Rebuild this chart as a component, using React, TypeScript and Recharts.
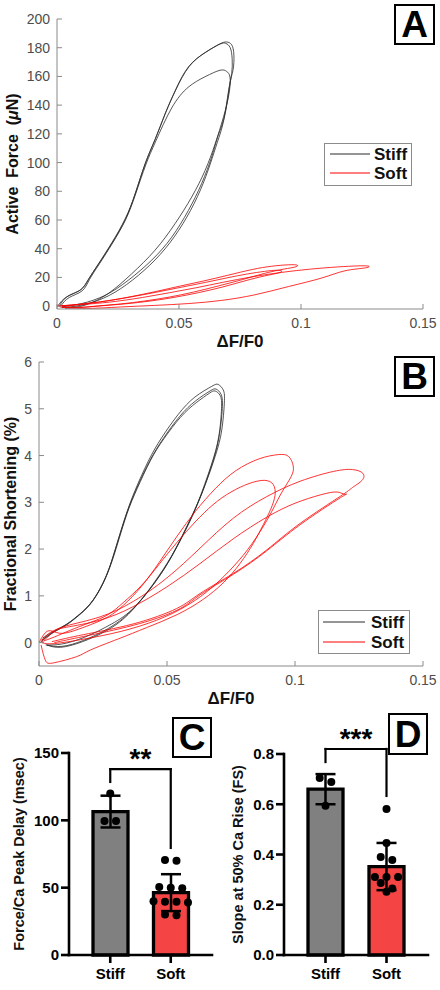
import type { ReactNode } from 'react';
import {
  LineChart,
  Line,
  XAxis,
  YAxis,
  Label,
  Legend,
  ComposedChart,
  Bar,
  Cell,
  ErrorBar,
  Scatter,
  ReferenceLine,
} from 'recharts';

type Pt = [number, number];

const FONT = '"Liberation Sans", Arial, Helvetica, sans-serif';

// ---------- A / B : loops against ΔF/F0 ----------
const DFF_TICKS = [0, 0.05, 0.1, 0.15];
const FORCE_TICKS = [0, 20, 40, 60, 80, 100, 120, 140, 160, 180, 200];
const FS_TICKS = [0, 1, 2, 3, 4, 5, 6];

// active force (µN) vs ΔF/F0, one array per beat
const forceStiff1: Pt[] = [
  [0.0005, 0.5], [0.004, 6.5], [0.0094, 11], [0.0128, 18.5], [0.0169, 29], [0.0224, 43.5],
  [0.0279, 60], [0.032, 78], [0.0361, 99], [0.0402, 116], [0.0443, 134], [0.0484, 150],
  [0.0538, 166.5], [0.0607, 176.5], [0.0665, 182.5], [0.0695, 184], [0.0716, 182], [0.0725, 175],
  [0.0722, 165], [0.0709, 155], [0.0689, 134], [0.0661, 119], [0.0634, 104], [0.0593, 85.5],
  [0.0538, 66.5], [0.047, 48], [0.0388, 32], [0.0292, 18], [0.0197, 7.5], [0.0101, 1.8], [0.0019, -0.5],
];
const forceStiff2: Pt[] = [
  [0.001, 0.3], [0.0045, 7], [0.0098, 11.5], [0.0131, 19], [0.0172, 30], [0.0226, 44.5],
  [0.028, 61], [0.0322, 79], [0.0363, 100], [0.0404, 117], [0.0446, 135], [0.0488, 151],
  [0.0542, 167], [0.061, 177], [0.0668, 182.5], [0.0692, 183], [0.071, 180], [0.0718, 172],
  [0.0716, 162], [0.0703, 150], [0.0684, 130], [0.0657, 114], [0.0628, 99], [0.0588, 81],
  [0.0532, 62], [0.0462, 44], [0.038, 28.5], [0.0285, 15], [0.019, 5.5], [0.0095, 0.5], [0.002, -1],
];
const forceStiff3: Pt[] = [
  [0.0015, 0], [0.005, 6], [0.0102, 10.5], [0.0133, 18.5], [0.0174, 29.5], [0.0228, 44],
  [0.0282, 60.5], [0.0323, 78.5], [0.0364, 98.5], [0.0405, 115], [0.047, 138], [0.0538, 152.5],
  [0.0607, 159.8], [0.0668, 164.3], [0.0695, 163.5], [0.0709, 159.5], [0.0705, 148], [0.0682, 131.5],
  [0.0648, 113], [0.0607, 94.5], [0.0552, 76], [0.0484, 57.5], [0.0402, 39], [0.0306, 22.5],
  [0.021, 8.8], [0.0115, 0.7], [0.0033, -1.5],
];
const forceSoft1: Pt[] = [
  [0, 0], [0.005, 0.6], [0.012, 1.8], [0.02, 3.5], [0.03, 6.5], [0.04, 10], [0.05, 13.8],
  [0.06, 17.5], [0.07, 21.5], [0.08, 25.5], [0.088, 27.8], [0.095, 28.8], [0.0985, 28.5],
  [0.0975, 27.2], [0.093, 25.8], [0.085, 22.8], [0.076, 18.5], [0.066, 14], [0.056, 9.8],
  [0.046, 6.3], [0.036, 3.6], [0.026, 1.5], [0.016, 0], [0.007, -1.2], [0.001, -0.5],
];
const forceSoft2: Pt[] = [
  [0.001, 0.2], [0.006, 0.8], [0.013, 2], [0.021, 3.8], [0.031, 6.6], [0.041, 9.8], [0.051, 13.2],
  [0.061, 16.6], [0.07, 19.8], [0.078, 22.4], [0.085, 24.2], [0.09, 25], [0.0921, 24.4],
  [0.0905, 23], [0.085, 21], [0.077, 17.6], [0.068, 13.4], [0.058, 9.4], [0.048, 6.1],
  [0.038, 3.5], [0.028, 1.6], [0.018, 0.2], [0.009, -0.8], [0.002, -0.4],
];
const forceSoft3: Pt[] = [
  [0, 0.3], [0.006, 0.6], [0.014, 1.6], [0.024, 3.3], [0.035, 6], [0.046, 9.3], [0.057, 12.8],
  [0.068, 16.6], [0.08, 20.4], [0.092, 23.5], [0.104, 25.8], [0.115, 27.3], [0.123, 28],
  [0.1276, 27.9], [0.1262, 26.6], [0.118, 24.6], [0.1085, 19.6], [0.0948, 13.6], [0.0811, 7.9],
  [0.0675, 4], [0.054, 1.8], [0.04, 0.5], [0.026, -0.6], [0.012, -1.6], [0.003, -0.8],
];

// fractional shortening (%) vs ΔF/F0
const fsStiff1: Pt[] = [
  [0.0004, 0], [0.005, 0.2], [0.0102, 0.36], [0.0153, 0.57], [0.0206, 0.86], [0.0258, 1.36],
  [0.0297, 1.98], [0.0336, 2.67], [0.0375, 3.25], [0.0427, 3.88], [0.0479, 4.38], [0.0544, 4.88],
  [0.0609, 5.25], [0.0675, 5.48], [0.07, 5.52], [0.072, 5.4], [0.0724, 5.12], [0.0714, 4.55],
  [0.0688, 3.98], [0.0636, 3.19], [0.0583, 2.55], [0.0531, 1.98], [0.0466, 1.41], [0.0375, 0.77],
  [0.0284, 0.4], [0.018, 0.12], [0.0089, -0.03], [0.0026, -0.05],
];
const fsStiff2: Pt[] = [
  [0.001, 0.05], [0.0055, 0.22], [0.0105, 0.38], [0.0157, 0.6], [0.021, 0.9], [0.0262, 1.42],
  [0.0301, 2.04], [0.034, 2.72], [0.038, 3.28], [0.0432, 3.88], [0.0485, 4.36], [0.055, 4.84],
  [0.0612, 5.17], [0.0668, 5.38], [0.0692, 5.42], [0.0712, 5.3], [0.0716, 5.0], [0.0705, 4.45],
  [0.0678, 3.85], [0.0626, 3.05], [0.0572, 2.4], [0.0518, 1.84], [0.0452, 1.28], [0.036, 0.68],
  [0.027, 0.3], [0.0175, 0.05], [0.009, -0.08], [0.003, -0.05],
];
const fsStiff3: Pt[] = [
  [0.0015, 0.1], [0.006, 0.25], [0.011, 0.4], [0.0162, 0.62], [0.0214, 0.93], [0.0266, 1.46],
  [0.0305, 2.08], [0.0344, 2.76], [0.0384, 3.3], [0.0436, 3.9], [0.0488, 4.36], [0.0553, 4.82],
  [0.0614, 5.13], [0.0665, 5.33], [0.0688, 5.38], [0.0708, 5.28], [0.0713, 5.0], [0.0702, 4.4],
  [0.0672, 3.78], [0.0618, 2.96], [0.0562, 2.3], [0.0505, 1.72], [0.0438, 1.18], [0.0348, 0.6],
  [0.0262, 0.25], [0.017, 0.02], [0.0085, -0.1], [0.003, -0.05],
];
const fsSoft1: Pt[] = [
  [0, 0], [0.0035, 0.25], [0.008, 0.2], [0.014, 0.26], [0.02, 0.38], [0.027, 0.55], [0.033, 0.8],
  [0.04, 1.2], [0.047, 1.72], [0.054, 2.28], [0.061, 2.8], [0.069, 3.3], [0.077, 3.68],
  [0.086, 3.93], [0.0935, 4.02], [0.0975, 3.98], [0.0993, 3.78], [0.0985, 3.55], [0.0945, 3.18],
  [0.0895, 2.66], [0.083, 2.1], [0.0765, 1.66], [0.068, 1.2], [0.058, 0.8], [0.046, 0.48],
  [0.032, 0.24], [0.018, 0.08], [0.006, -0.02], [0.001, 0],
];
const fsSoft2: Pt[] = [
  [0.001, 0.02], [0.006, 0.12], [0.012, 0.26], [0.02, 0.43], [0.027, 0.6], [0.033, 0.86],
  [0.04, 1.22], [0.047, 1.68], [0.054, 2.15], [0.061, 2.58], [0.068, 2.95], [0.075, 3.22],
  [0.082, 3.4], [0.088, 3.47], [0.0915, 3.38], [0.0922, 3.15], [0.0905, 2.85], [0.0876, 2.52],
  [0.0837, 2.12], [0.0785, 1.69], [0.072, 1.28], [0.064, 0.92], [0.054, 0.6], [0.042, 0.32],
  [0.031, 0.08], [0.02, -0.16], [0.0147, -0.3], [0.006, -0.43], [0.0025, -0.38], [0.0008, -0.05],
];
const fsSoft3: Pt[] = [
  [0.001, 0.05], [0.004, 0.2], [0.0108, 0.36], [0.0238, 0.55], [0.0368, 0.88], [0.0499, 1.38],
  [0.0629, 2.02], [0.0759, 2.66], [0.0889, 3.12], [0.102, 3.45], [0.115, 3.66], [0.1225, 3.7],
  [0.1265, 3.62], [0.1262, 3.47], [0.1228, 3.33], [0.118, 3.14], [0.102, 2.55], [0.0889, 1.98],
  [0.0759, 1.48], [0.0629, 1.05], [0.0538, 0.73], [0.0368, 0.4], [0.0173, 0.17], [0.005, 0.02],
];
const fsSoft4: Pt[] = [
  [0.002, 0.05], [0.006, 0.24], [0.0108, 0.33], [0.0238, 0.48], [0.0368, 0.77], [0.0499, 1.19],
  [0.0629, 1.69], [0.0759, 2.22], [0.0889, 2.68], [0.1, 2.98], [0.11, 3.16], [0.1165, 3.22],
  [0.1195, 3.17], [0.1178, 3.1], [0.102, 2.52], [0.0889, 1.96], [0.0759, 1.46], [0.0629, 1.02],
  [0.0538, 0.69], [0.0368, 0.37], [0.0173, 0.13], [0.006, 0],
];

// ---------- C / D : bar + dot plots ----------
const GROUPS = ['Stiff', 'Soft'];

const DELAY_TICKS = [0, 50, 100, 150];
const DELAY_MEAN = [106.5, 46.3];
const DELAY_SD = [11.8, 13.7];
const DELAY_STIFF = [120, 99.5, 99.5];
const DELAY_SOFT = [70.5, 70, 50.5, 50, 49.5, 40, 39.5, 39.5, 39, 30, 29.5];

const SLOPE_TICKS = [0, 0.2, 0.4, 0.6, 0.8];
const SLOPE_MEAN = [0.66, 0.352];
const SLOPE_SD = [0.06, 0.094];
const SLOPE_STIFF = [0.704, 0.689, 0.594];
const SLOPE_SOFT = [0.581, 0.446, 0.39, 0.378, 0.31, 0.31, 0.31, 0.287, 0.265, 0.252];

// ---------- styles ----------
const STIFF_LINE = '#2b2b2b';
const SOFT_LINE = '#ff0000';
const AXIS_GREY = '#8a8a8a';
const TICK_GREY = '#4d4d4d';
const BAR_FILLS = ['#808080', '#f44444'];

const SERIES = [
  { name: 'Stiff', color: STIFF_LINE },
  { name: 'Soft', color: SOFT_LINE },
];

const asRows = (loop: Pt[]) => loop.map(([x, y]) => ({ x, y }));

// matlab-ish axes: thin grey, ticks pointing inward
const matlabAxis = {
  stroke: AXIS_GREY,
  tickSize: -5,
  interval: 0 as const,
  allowDataOverflow: true,
  tick: { fill: TICK_GREY, fontSize: 14, fontFamily: FONT },
};

const yTitle = (x: number, size: number, body: ReactNode) => (props: any) => {
  const vb = props.viewBox;
  const cy = vb.y + vb.height / 2;
  return (
    <text
      x={x}
      y={cy}
      dy="0.35em"
      textAnchor="middle"
      transform={`rotate(-90 ${x} ${cy})`}
      fontFamily={FONT}
      fontSize={size}
      fontWeight={700}
      fill="#111"
      style={{ whiteSpace: 'pre' }}
    >
      {body}
    </text>
  );
};

const xTitle = (text: string, drop: number) => (props: any) => {
  const vb = props.viewBox;
  return (
    <text x={vb.x + vb.width / 2} y={vb.y + drop} textAnchor="middle" fontFamily={FONT} fontSize={17} fontWeight={700} fill="#111">
      {text}
    </text>
  );
};

type LegendBox = {
  left: number;
  top: number;
  width: number;
  height: number;
  lineX: [number, number];
  textX: number;
  rowY: [number, number];
};

function LoopLegend({ box }: { box: LegendBox }) {
  return (
    <div style={{ width: box.width, height: box.height, boxSizing: 'border-box', border: '1px solid #8c8c8c', background: '#fff', position: 'relative' }}>
      <svg width={box.width} height={box.height} style={{ position: 'absolute', left: -1, top: -1 }}>
        {SERIES.map((s, i) => (
          <g key={s.name}>
            <line x1={box.lineX[0]} x2={box.lineX[1]} y1={box.rowY[i]} y2={box.rowY[i]} stroke={s.color} strokeWidth={1} />
            <text x={box.textX} y={box.rowY[i]} dy="0.36em" fontSize={17} fontWeight={700} fontFamily={FONT} fill="#111">
              {s.name}
            </text>
          </g>
        ))}
      </svg>
    </div>
  );
}

type LoopPanelProps = {
  top: number;
  height: number;
  marginTop: number;
  yAxisWidth: number;
  yDomain: [number, number];
  yTicks: number[];
  yLabel: ReactNode;
  labelX: number;
  stiff: Pt[][];
  soft: Pt[][];
  legend: LegendBox;
};

function LoopPanel({ top, height, marginTop, yAxisWidth, yDomain, yTicks, yLabel, labelX, stiff, soft, legend }: LoopPanelProps) {
  return (
    <div style={{ position: 'absolute', left: 0, top }}>
      <LineChart width={440} height={height} margin={{ top: marginTop, right: 17, bottom: 0, left: 0 }}>
        <XAxis type="number" dataKey="x" domain={[0, 0.15]} ticks={DFF_TICKS} height={44} tickMargin={14} {...matlabAxis}>
          <Label content={xTitle('ΔF/F0', 38)} />
        </XAxis>
        <YAxis type="number" domain={yDomain} ticks={yTicks} width={yAxisWidth} tickMargin={12} {...matlabAxis}>
          <Label content={yTitle(labelX, 16, yLabel)} />
        </YAxis>
        {stiff.map((loop, i) => (
          <Line
            key={`stiff-${i}`}
            data={asRows(loop)}
            dataKey="y"
            type="natural"
            stroke={STIFF_LINE}
            strokeWidth={0.8}
            dot={false}
            activeDot={false}
            legendType="none"
            isAnimationActive={false}
          />
        ))}
        {soft.map((loop, i) => (
          <Line
            key={`soft-${i}`}
            data={asRows(loop)}
            dataKey="y"
            type="natural"
            stroke={SOFT_LINE}
            strokeWidth={0.8}
            dot={false}
            activeDot={false}
            legendType="none"
            isAnimationActive={false}
          />
        ))}
        <Legend
          layout="horizontal"
          verticalAlign="middle"
          align="center"
          wrapperStyle={{ left: legend.left, top: legend.top, width: legend.width, height: legend.height }}
          content={() => <LoopLegend box={legend} />}
        />
      </LineChart>
    </div>
  );
}

// GraphPad style: near-equal values share a centred row
function spreadRows(vals: number[], tol: number, gap = 0.19) {
  const sorted = [...vals].sort((a, b) => b - a);
  const rows: number[][] = [];
  for (const v of sorted) {
    const row = rows[rows.length - 1];
    if (row && row[0] - v < tol) row.push(v);
    else rows.push([v]);
  }
  return rows.flatMap((row) => row.map((v, k) => ({ dx: (k - (row.length - 1) / 2) * gap, val: v })));
}

type DotBarProps = {
  left: number;
  yAxisWidth: number;
  marginRight: number;
  marginTop: number;
  yDomain: [number, number];
  yTicks: number[];
  tickFormat: (v: number) => string;
  yLabel: string;
  labelX: number;
  means: number[];
  sds: number[];
  points: number[][];
  tol: number;
  bracket: [number, number, number];
  stars: string;
};

const gpAxis = {
  stroke: '#000',
  axisLine: { stroke: '#000', strokeWidth: 2.6, strokeLinecap: 'square' as const },
  tickLine: { stroke: '#000', strokeWidth: 2.6 },
  tickSize: 8,
  tick: { fill: '#000', fontSize: 15, fontWeight: 700, fontFamily: FONT },
};

function DotBarPanel(p: DotBarProps) {
  const bars = GROUPS.map((g, i) => ({ group: g, mean: p.means[i], sd: p.sds[i] }));
  const dots = p.points.flatMap((vals, i) =>
    spreadRows(vals, p.tol).map((d) => ({ gx: i + 1 + d.dx, val: d.val })),
  );
  const [yTop, yLeft, yRight] = p.bracket;
  const bracketLine = { stroke: '#000', strokeWidth: 2.2, ifOverflow: 'visible' as const, strokeLinecap: 'square' as const };

  return (
    <div style={{ position: 'absolute', left: p.left, top: 705 }}>
      <ComposedChart width={220} height={285} data={bars} margin={{ top: p.marginTop, right: p.marginRight, bottom: 0, left: 0 }}>
        <XAxis dataKey="group" height={35} padding={{ left: 11, right: 11 }} tickMargin={5} interval={0} {...gpAxis} />
        <XAxis xAxisId="pts" type="number" dataKey="gx" domain={[0.5, 2.5]} padding={{ left: 11, right: 11 }} height={0} hide />
        <YAxis
          domain={p.yDomain}
          ticks={p.yTicks}
          width={p.yAxisWidth}
          tickMargin={2}
          interval={0}
          tickFormatter={p.tickFormat}
          {...gpAxis}
        >
          <Label content={yTitle(p.labelX, 14.5, p.yLabel)} />
        </YAxis>
        <Bar dataKey="mean" barSize={35} stroke="#000" strokeWidth={3.3} isAnimationActive={false}>
          {bars.map((b, i) => (
            <Cell key={b.group} fill={BAR_FILLS[i]} />
          ))}
          <ErrorBar dataKey="sd" width={10} strokeWidth={2.5} stroke="#000" />
        </Bar>
        <Scatter
          xAxisId="pts"
          data={dots}
          dataKey="val"
          isAnimationActive={false}
          shape={(s: any) => <circle cx={s.cx} cy={s.cy} r={4} fill="#000" />}
        />
        <ReferenceLine
          segment={[{ x: 'Stiff', y: yTop }, { x: 'Soft', y: yTop }]}
          {...bracketLine}
          label={(lp: any) => {
            const vb = lp.viewBox;
            return (
              <text x={vb.x + vb.width / 2} y={vb.y - 1} textAnchor="middle" fontFamily={FONT} fontSize={28} fontWeight={700} fill="#000">
                {p.stars}
              </text>
            );
          }}
        />
        <ReferenceLine segment={[{ x: 'Stiff', y: yTop }, { x: 'Stiff', y: yLeft }]} {...bracketLine} />
        <ReferenceLine segment={[{ x: 'Soft', y: yTop }, { x: 'Soft', y: yRight }]} {...bracketLine} />
      </ComposedChart>
    </div>
  );
}

function PanelTag({ letter, left, top, w, h }: { letter: string; left: number; top: number; w: number; h: number }) {
  return (
    <div
      style={{
        position: 'absolute',
        left,
        top,
        width: w,
        height: h,
        boxSizing: 'border-box',
        border: '2.5px solid #000',
        background: '#fff',
        display: 'flex',
        alignItems: 'center',
        justifyContent: 'center',
        fontFamily: FONT,
        fontWeight: 700,
        fontSize: 37,
        lineHeight: 1,
        color: '#000',
      }}
    >
      {letter}
    </div>
  );
}

export default function App() {
  return (
    <div style={{ position: 'absolute', left: 0, top: 0, width: 440, height: 990, background: '#fff', overflow: 'hidden' }}>
      <LoopPanel
        top={0}
        height={353}
        marginTop={19}
        yAxisWidth={57}
        yDomain={[-2, 200]}
        yTicks={FORCE_TICKS}
        labelX={12}
        yLabel={
          <>
            {'Active  Force  ('}
            <tspan fontStyle="italic">μ</tspan>
            {'N)'}
          </>
        }
        stiff={[forceStiff1, forceStiff2, forceStiff3]}
        soft={[forceSoft1, forceSoft2, forceSoft3]}
        legend={{ left: 324, top: 143, width: 88, height: 43, lineX: [6, 46], textX: 50, rowY: [11, 30] }}
      />
      <LoopPanel
        top={350}
        height={360}
        marginTop={12}
        yAxisWidth={39}
        yDomain={[-0.5, 6]}
        yTicks={FS_TICKS}
        labelX={10.5}
        yLabel="Fractional Shortening (%)"
        stiff={[fsStiff1, fsStiff2, fsStiff3]}
        soft={[fsSoft1, fsSoft2, fsSoft3, fsSoft4]}
        legend={{ left: 318, top: 260, width: 92, height: 44, lineX: [5, 47], textX: 53, rowY: [12, 32] }}
      />
      <DotBarPanel
        left={0}
        yAxisWidth={69}
        marginRight={8}
        marginTop={48}
        yDomain={[0, 150]}
        yTicks={DELAY_TICKS}
        tickFormat={(v) => String(v)}
        yLabel="Force/Ca Peak Delay (msec)"
        labelX={19}
        means={DELAY_MEAN}
        sds={DELAY_SD}
        points={[DELAY_STIFF, DELAY_SOFT]}
        tol={4}
        bracket={[138, 128.5, 79.5]}
        stars="**"
      />
      <DotBarPanel
        left={220}
        yAxisWidth={64}
        marginRight={12}
        marginTop={49}
        yDomain={[0, 0.8]}
        yTicks={SLOPE_TICKS}
        tickFormat={(v) => v.toFixed(1)}
        yLabel="Slope at 50% Ca Rise (FS)"
        labelX={18}
        means={SLOPE_MEAN}
        sds={SLOPE_SD}
        points={[SLOPE_STIFF, SLOPE_SOFT]}
        tol={0.022}
        bracket={[0.82, 0.768, 0.633]}
        stars="***"
      />
      <PanelTag letter="A" left={394} top={4} w={41} h={41} />
      <PanelTag letter="B" left={394} top={356} w={41} h={41} />
      <PanelTag letter="C" left={172} top={717} w={40} h={41} />
      <PanelTag letter="D" left={388} top={713} w={40} h={42} />
    </div>
  );
}
